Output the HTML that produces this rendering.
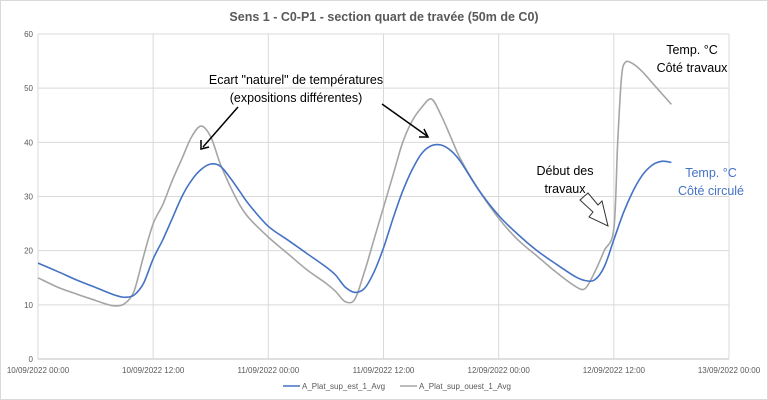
<!DOCTYPE html>
<html><head><meta charset="utf-8"><style>
body{margin:0;background:#fff;font-family:"Liberation Sans",sans-serif}
svg{display:block}
text{font-family:"Liberation Sans",sans-serif}
</style></head><body>
<svg width="768" height="400" viewBox="0 0 768 400">
<rect x="0.5" y="0.5" width="767" height="399" fill="#fff" stroke="#d9d9d9"/>
<text x="384" y="21" text-anchor="middle" font-size="12.5" font-weight="bold" fill="#595959">Sens 1 - C0-P1 - section quart de travée (50m de C0)</text>
<g id="grid"></g><g id="axes"></g><g id="series"></g>
<g font-size="12.5" fill="#000">
<text x="296" y="84" text-anchor="middle">Ecart "naturel" de températures</text>
<text x="296" y="102" text-anchor="middle">(expositions différentes)</text>
<line x1="238" y1="107" x2="203" y2="147" stroke="#000" stroke-width="1.5"/>
<polyline points="201,140 201,149 209,147" fill="none" stroke="#000" stroke-width="1.5"/>
<line x1="382" y1="104" x2="427" y2="136" stroke="#000" stroke-width="1.5"/>
<polyline points="419,137 428,137 424,129" fill="none" stroke="#000" stroke-width="1.5"/>
<text x="692" y="54" text-anchor="middle">Temp. °C</text>
<text x="692" y="72" text-anchor="middle">Côté travaux</text>
<text x="565" y="175" text-anchor="middle">Début des</text>
<text x="565" y="193" text-anchor="middle">travaux</text>
<polygon points="580,200 588,193 598,205 602,201 608,226 589,217 593,212" fill="#fff" stroke="#333" stroke-width="1"/>
<text x="711" y="177" text-anchor="middle" fill="#4472c4">Temp. °C</text>
<text x="711" y="195" text-anchor="middle" fill="#4472c4">Côté circulé</text>
</g>
<g font-size="8" fill="#595959">
<line x1="283" y1="386" x2="300" y2="386" stroke="#4472c4" stroke-width="1.5"/>
<text x="302" y="389">A_Plat_sup_est_1_Avg</text>
<line x1="400" y1="386" x2="417" y2="386" stroke="#a5a5a5" stroke-width="1.5"/>
<text x="419" y="389">A_Plat_sup_ouest_1_Avg</text>
</g>
</svg>
<script>
const yTicks=[0,10,20,30,40,50,60];
const xTickHours=[0,12,24,36,48,60,72];
const xTickLabels=["10/09/2022 00:00","10/09/2022 12:00","11/09/2022 00:00","11/09/2022 12:00","12/09/2022 00:00","12/09/2022 12:00","13/09/2022 00:00"];
const estHours=[0,2,4,6,8,9,10,11,12,13,14,15,16,17,18,19,20,21,22,24,26,28,30,31,32,33,34,35,36,37,38,39,40,41,42,43,44,46,48,50,52,54,56,57,58,59,60,61,62,63,64,65,66];
const estValues=[17.7,16.2,14.6,13.2,11.8,11.4,11.8,14,18.5,22,26,30,33,35,36,35.6,33.5,31,28.5,24.5,22,19.5,17,15.5,13.3,12.3,13,16,20.5,26,31,35,38,39.4,39.5,38.5,36.5,31,26.5,23,20,17.5,15.2,14.5,14.6,17,22,27,31,34,35.8,36.5,36.3];
const ouestHours=[0,2,4,6,7,8,9,10,11,12,13,14,15,16,17,18,19,20,21,22,24,26,28,30,31,32,33,34,35,36,37,38,39,40,41,42,43,44,46,48,50,52,54,56,57,58,59,60,60.4,60.8,61.2,62,63,64,65,66];
const ouestValues=[15,13.3,12,10.8,10.2,9.8,10.2,12.5,19,25,28.5,33,37,41,43,41,36,32,28.5,26,22.5,19.5,16.5,14,12.5,10.6,11,16,22,28,34,40,44,46.5,48,45,41,37,31,26,22,19,16,13.4,13,16,20,24,40,52,54.8,54.5,53,51,49,47];
const NS="http://www.w3.org/2000/svg";
const X0=38,X1=729,Y0=359,Y1=34;
function xs(h){return X0+(X1-X0)*h/72;}
function ys(v){return Y0-(Y0-Y1)*v/60;}
const grid=document.getElementById('grid'),axes=document.getElementById('axes'),ser=document.getElementById('series');
yTicks.forEach(t=>{
 const l=document.createElementNS(NS,'line');
 l.setAttribute('x1',X0);l.setAttribute('x2',X1);l.setAttribute('y1',ys(t));l.setAttribute('y2',ys(t));
 l.setAttribute('stroke',t===0?'#bfbfbf':'#d9d9d9');
 
 
 grid.appendChild(l);
 const tx=document.createElementNS(NS,'text');
 tx.setAttribute('x',33);tx.setAttribute('y',ys(t)+3);tx.setAttribute('text-anchor','end');tx.setAttribute('font-size','8');tx.setAttribute('fill','#595959');
 tx.textContent=t;
 
 
 axes.appendChild(tx);
});
xTickHours.forEach((h,i)=>{
 const l=document.createElementNS(NS,'line');
 l.setAttribute('x1',xs(h));l.setAttribute('x2',xs(h));l.setAttribute('y1',Y1);l.setAttribute('y2',Y0);
 l.setAttribute('stroke','#d9d9d9');
 
 
 grid.appendChild(l);
 const tx=document.createElementNS(NS,'text');
 tx.setAttribute('x',xs(h));tx.setAttribute('y',373);tx.setAttribute('text-anchor','middle');tx.setAttribute('font-size','8');tx.setAttribute('fill','#595959');
 tx.textContent=xTickLabels[i];
 
 
 axes.appendChild(tx);
});
function line(hs,vs,color,name){
 const P=hs.map((h,i)=>[xs(h),ys(vs[i])]);
 let d='M'+P[0][0].toFixed(1)+','+P[0][1].toFixed(1);
 for(let i=0;i<P.length-1;i++){
  const p0=P[Math.max(0,i-1)],p1=P[i],p2=P[i+1],p3=P[Math.min(P.length-1,i+2)];
  const t=0.16;
  const c1=[p1[0]+(p2[0]-p0[0])*t,p1[1]+(p2[1]-p0[1])*t];
  const c2=[p2[0]-(p3[0]-p1[0])*t,p2[1]-(p3[1]-p1[1])*t];
  d+='C'+c1[0].toFixed(1)+','+c1[1].toFixed(1)+' '+c2[0].toFixed(1)+','+c2[1].toFixed(1)+' '+p2[0].toFixed(1)+','+p2[1].toFixed(1);
 }
 const p=document.createElementNS(NS,'path');
 p.setAttribute('d',d);
 p.setAttribute('fill','none');p.setAttribute('stroke',color);p.setAttribute('stroke-width','1.6');p.setAttribute('stroke-linejoin','round');
 
 
 ser.appendChild(p);
}
line(ouestHours,ouestValues,'#a5a5a5','series-ouest');
line(estHours,estValues,'#4472c4','series-est');
</script>
</body></html>
